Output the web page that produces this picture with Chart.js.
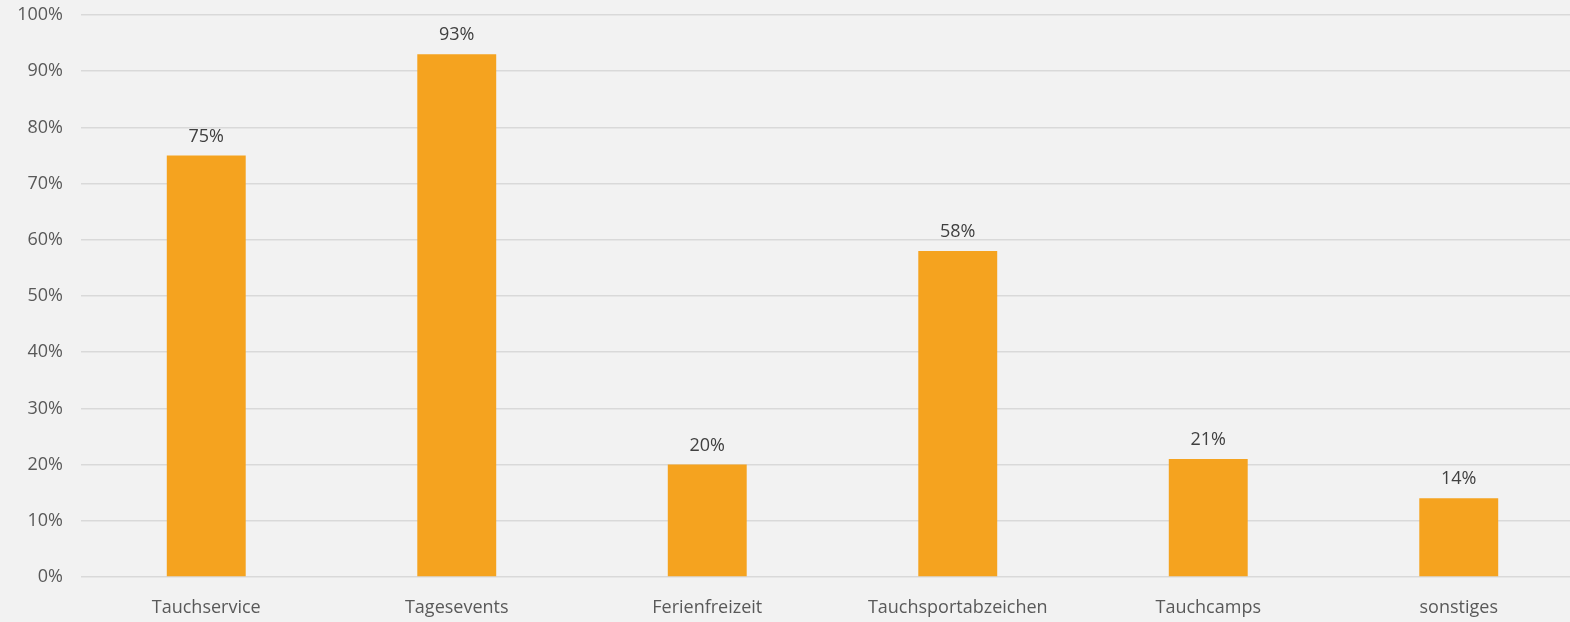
<!DOCTYPE html>
<html>
<head>
<meta charset="utf-8">
<script src="https://cdn.jsdelivr.net/npm/chart.js@4/dist/chart.umd.min.js"></script>
<style>
  html, body { margin: 0; padding: 0; background: #f2f2f2; overflow: hidden; }
  #wrap { width: 1584px; height: 622px; position: relative; }
</style>
</head>
<body>
<div id="wrap"><canvas id="angebote"></canvas></div>
<script>
// Angebote – Anteil in Prozent
const categories = ['Tauchservice', 'Tagesevents', 'Ferienfreizeit', 'Tauchsportabzeichen', 'Tauchcamps', 'sonstiges'];
const shares = [75, 93, 20, 58, 21, 14];
const yTicks = [0, 10, 20, 30, 40, 50, 60, 70, 80, 90, 100];

const FONT = "'Open Sans', 'Lato', sans-serif";

// Prozentwerte über die Balken schreiben
const valueLabels = {
    id: 'valueLabels',
    afterDatasetsDraw(chart) {
        const ctx = chart.ctx;
        const meta = chart.getDatasetMeta(0);
        ctx.save();
        ctx.font = '18px ' + FONT;
        ctx.fillStyle = '#404040';
        ctx.textAlign = 'center';
        ctx.textBaseline = 'bottom';
        meta.data.forEach((bar, i) => {
            ctx.fillText(shares[i] + '%', bar.x, bar.y - 10);
        });
        ctx.restore();
    }
};

new Chart(document.getElementById('angebote'), {
    type: 'bar',
    data: {
        labels: categories,
        datasets: [{
            data: shares,
            backgroundColor: '#f5a31f',
            borderWidth: 0,
            categoryPercentage: 1,
            barPercentage: 0.315
        }]
    },
    options: {
        responsive: true,
        maintainAspectRatio: false,
        animation: false,
        layout: { padding: { top: 15, right: 0, left: 2, bottom: 0 } },
        plugins: {
            legend: { display: false },
            tooltip: { enabled: false }
        },
        scales: {
            x: {
                grid: { display: false },
                border: { display: false },
                ticks: {
                    color: '#595959',
                    font: { family: FONT, size: 18 },
                    padding: 12,
                    maxRotation: 0
                },
                afterFit(axis) {
                    axis.height = 45;
                    axis.paddingLeft = 0;
                    axis.paddingRight = 0;
                }
            },
            y: {
                min: 0,
                max: 100,
                afterBuildTicks(axis) { axis.ticks = yTicks.map(v => ({ value: v })); },
                grid: { color: '#d9d9d9', lineWidth: 1.5, drawTicks: false },
                border: { display: false },
                ticks: {
                    color: '#595959',
                    font: { family: FONT, size: 18 },
                    padding: 18,
                    callback: v => v + '%'
                },
                afterFit(axis) {
                    axis.width = 79;
                    axis.paddingTop = 0;
                    axis.paddingBottom = 0;
                }
            }
        }
    },
    plugins: [valueLabels]
});
</script>
</body>
</html>
